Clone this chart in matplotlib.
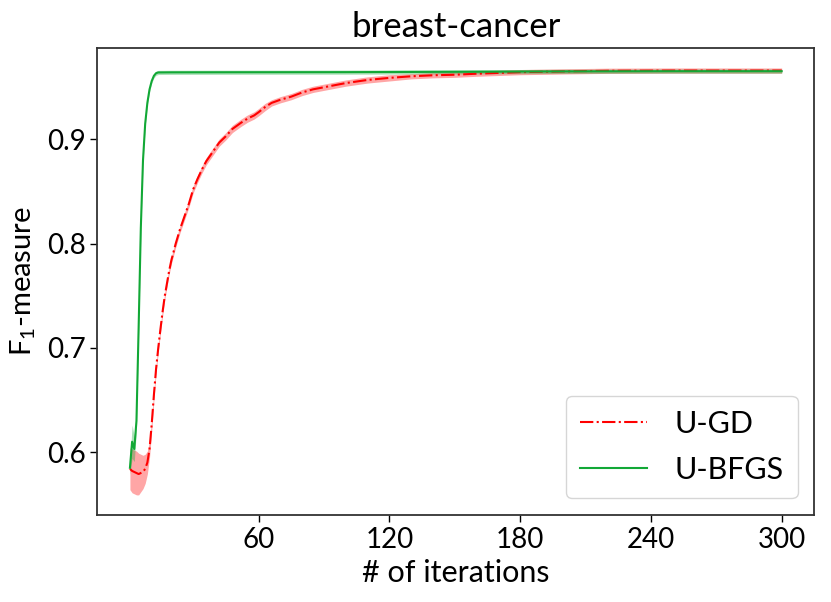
import matplotlib
matplotlib.use("Agg")
import matplotlib.pyplot as plt
import numpy as np

plt.rcParams['font.family'] = ['Lato', 'DejaVu Sans']
plt.rcParams['mathtext.fontset'] = 'custom'
plt.rcParams['mathtext.rm'] = 'Lato'
plt.rcParams['mathtext.it'] = 'Lato:italic'

title = "breast-cancer"
xlabel = "# of iterations"
ylabel = "F$_1$-measure"
xticks = [60, 120, 180, 240, 300]
yticks = [0.6, 0.7, 0.8, 0.9]

# U-GD (red, dash-dot)
gd_iter = [1, 2, 3, 4, 5, 6, 7, 8, 9, 10, 11, 12, 13, 14, 15, 16, 17, 18, 19, 20,
           21, 22, 23, 24, 25, 26, 28, 30, 32, 34, 36, 38, 40, 42, 45, 48, 50, 52,
           55, 58, 60, 63, 66, 70, 75, 80, 85, 90, 95, 100, 110, 120, 130, 140,
           150, 160, 180, 200, 220, 250, 300]
gd_mean = [0.584, 0.582, 0.581, 0.580, 0.579, 0.580, 0.581, 0.584, 0.590, 0.603,
           0.627, 0.655, 0.680, 0.700, 0.718, 0.735, 0.750, 0.762, 0.774, 0.784,
           0.792, 0.800, 0.807, 0.814, 0.820, 0.826, 0.838, 0.852, 0.862, 0.871,
           0.879, 0.885, 0.891, 0.897, 0.903, 0.910, 0.913, 0.916, 0.920, 0.923,
           0.926, 0.931, 0.935, 0.938, 0.941, 0.945, 0.948, 0.950, 0.952, 0.954,
           0.957, 0.959, 0.9605, 0.9615, 0.962, 0.963, 0.9645, 0.9652, 0.9658,
           0.966, 0.966]
gd_std = [0.020, 0.021, 0.021, 0.021, 0.020, 0.018, 0.016, 0.014, 0.011, 0.008,
          0.006, 0.005, 0.004, 0.004, 0.004, 0.004, 0.0035, 0.0035, 0.0035, 0.0035,
          0.0035, 0.0035, 0.0035, 0.0035, 0.0035, 0.0035, 0.0035, 0.0035, 0.0035, 0.0035,
          0.0035, 0.0035, 0.0035, 0.0035, 0.0035, 0.0035, 0.0035, 0.0035, 0.0035, 0.0035,
          0.0035, 0.0035, 0.003, 0.003, 0.003, 0.003, 0.003, 0.003, 0.003, 0.003,
          0.003, 0.003, 0.0025, 0.0025, 0.0025, 0.0025, 0.0025, 0.0025, 0.0025,
          0.0025, 0.0025]

# U-BFGS (green, solid)
bfgs_iter = [1, 2, 3, 4, 5, 6, 7, 8, 9, 10, 11, 12, 13, 14, 20, 50, 100, 150, 200, 250, 300]
bfgs_mean = [0.585, 0.610, 0.603, 0.630, 0.720, 0.815, 0.880, 0.915, 0.935, 0.948,
             0.956, 0.961, 0.9635, 0.9642, 0.9643, 0.9644, 0.9645, 0.9648, 0.9652,
             0.9654, 0.9654]
bfgs_std = [0.006, 0.016, 0.012, 0.008, 0.005, 0.004, 0.003, 0.0025, 0.002, 0.002,
            0.002, 0.002, 0.002, 0.002, 0.002, 0.002, 0.002, 0.002, 0.002, 0.002, 0.002]

fig = plt.figure(figsize=(8.31, 6.02), dpi=100)
ax = fig.add_axes([0.117, 0.145, 0.863, 0.775])

gx = np.array(gd_iter); gm = np.array(gd_mean); gs = np.array(gd_std)
bx = np.array(bfgs_iter); bm = np.array(bfgs_mean); bs = np.array(bfgs_std)

ax.fill_between(gx, gm - gs, gm + gs, color='#ff0000', alpha=0.35, linewidth=0)
ax.plot(gx, gm, color='#ff0000', linestyle='-.', linewidth=1.5, label='U-GD')
ax.fill_between(bx, bm - bs, bm + bs, color='#12a836', alpha=0.35, linewidth=0)
ax.plot(bx, bm, color='#12a836', linestyle='-', linewidth=1.5, label='U-BFGS')

ax.set_xlim(-14, 315)
ax.set_ylim(0.540, 0.9875)
ax.set_xticks(xticks)
ax.set_yticks(yticks)
ax.set_xticklabels([str(t) for t in xticks])
ax.set_yticklabels([str(t) for t in yticks])
ax.tick_params(axis='both', labelsize=20, length=5, width=1, direction='out')
for s in ax.spines.values():
    s.set_linewidth(1.3)
    s.set_color('#333333')

ax.set_title(title, fontsize=25, pad=8)
ax.set_xlabel(xlabel, fontsize=22, labelpad=5)
ax.set_ylabel(ylabel, fontsize=21, labelpad=6)

leg = ax.legend(loc='lower right', fontsize=22, frameon=True, fancybox=True,
                borderaxespad=0.55, handlelength=2.2, handletextpad=0.9,
                labelspacing=0.6, borderpad=0.45)
leg.get_frame().set_edgecolor('#cccccc')

fig.savefig('out.png', dpi=100)
